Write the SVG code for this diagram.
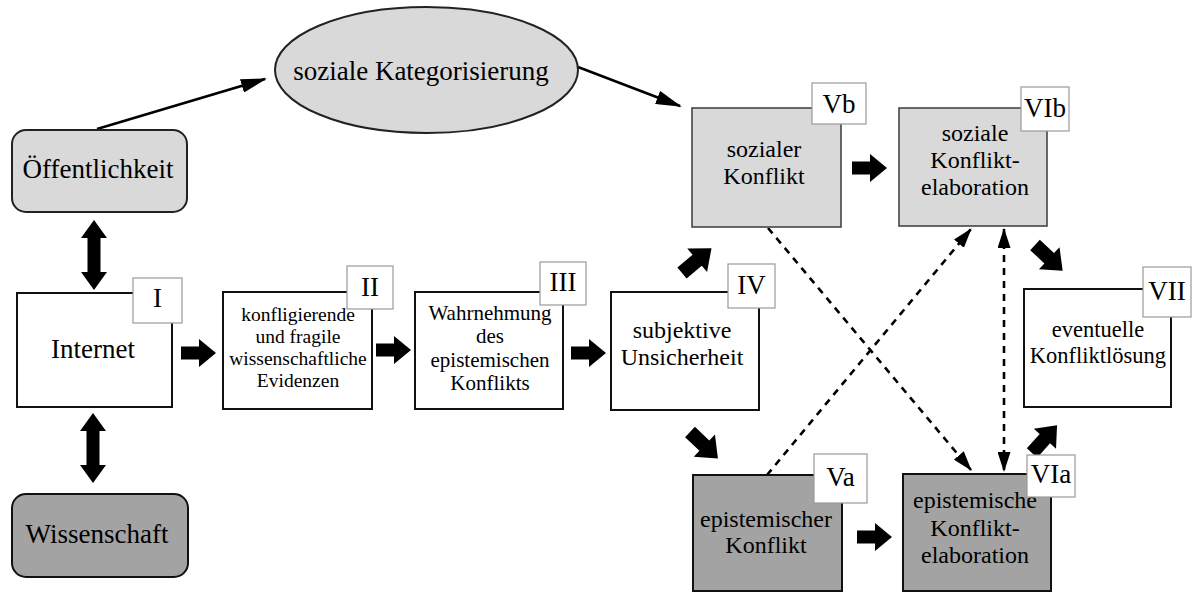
<svg xmlns="http://www.w3.org/2000/svg" xmlns:xlink="http://www.w3.org/1999/xlink" width="1192" height="592" viewBox="0 0 1192 592">
<style>
text{fill:#000;text-anchor:middle}
.big{font-size:27px}
.lbl{font-size:27px}
.box{fill:#fff;stroke:#111;stroke-width:2}
.light{fill:#d9d9d9;stroke:#222;stroke-width:2}
.lightb{fill:#d9d9d9;stroke:#444;stroke-width:1.6}
.dark{fill:#a3a3a3;stroke:#111;stroke-width:2}
.tag{fill:#fff;stroke:#999;stroke-width:1.2}
.line{stroke:#000;stroke-width:2.5;fill:none}
.dash{stroke:#000;stroke-width:2.6;fill:none;stroke-dasharray:7 6}
.blk{fill:#000}
</style>
<defs>
<path id="ba" d="M0,-6.5 H18 V-14 L35,0 L18,14 V6.5 H0 Z"/>
<path id="dba" d="M0,-18 L13,0 H6.5 V34 H13 L0,52 L-13,34 H-6.5 V0 H-13 Z"/>
<marker id="ah" markerUnits="userSpaceOnUse" viewBox="0 0 26 14" markerWidth="26" markerHeight="14" refX="24" refY="7" orient="auto">
<path d="M0,0 L26,7 L0,14 Z" fill="#000"/>
</marker>
<marker id="dh" markerUnits="userSpaceOnUse" viewBox="0 0 20 13" markerWidth="20" markerHeight="13" refX="19" refY="6.5" orient="auto-start-reverse">
<path d="M0,0 L20,6.5 L0,13 Z" fill="#000"/>
</marker>
</defs>

<g id="connectors">
<line class="line" x1="97" y1="129" x2="265" y2="79" marker-end="url(#ah)"/>
<line class="line" x1="578" y1="67" x2="680" y2="106" marker-end="url(#ah)"/>
<use xlink:href="#dba" transform="translate(94,238)" class="blk"/>
<use xlink:href="#dba" transform="translate(93,431)" class="blk"/>
<use xlink:href="#ba" transform="translate(181,353)" class="blk"/>
<use xlink:href="#ba" transform="translate(376,350)" class="blk"/>
<use xlink:href="#ba" transform="translate(571,353)" class="blk"/>
<use xlink:href="#ba" transform="translate(852,168)" class="blk"/>
<use xlink:href="#ba" transform="translate(857,537)" class="blk"/>
<use xlink:href="#ba" transform="translate(682,273) rotate(-40) scale(1.1)" class="blk"/>
<use xlink:href="#ba" transform="translate(690,432) rotate(43.5) scale(1.1)" class="blk"/>
<use xlink:href="#ba" transform="translate(1035,245) rotate(43) scale(1.08)" class="blk"/>
<use xlink:href="#ba" transform="translate(1032,453) rotate(-48) scale(1.07)" class="blk"/>
<line class="dash" x1="768" y1="228" x2="971" y2="470" marker-end="url(#dh)"/>
<line class="dash" x1="767" y1="475" x2="971" y2="229" marker-end="url(#dh)"/>
<line class="dash" x1="1004" y1="229" x2="1004" y2="471" marker-start="url(#dh)" marker-end="url(#dh)"/>
</g>

<g font-family="'Liberation Serif', 'Times New Roman', 'DejaVu Serif', serif">
<g id="oeffentlichkeit">
<rect class="light" x="12" y="130" width="175" height="82" rx="14"/>
<text class="big" x="98" y="178">Öffentlichkeit</text>
</g>
<g id="kategorisierung">
<ellipse class="light" cx="426.5" cy="70" rx="151.5" ry="63"/>
<text class="big" x="421" y="80">soziale Kategorisierung</text>
</g>
<g id="wissenschaft">
<rect class="dark" x="12" y="494" width="176" height="83" rx="14"/>
<text class="big" x="97" y="543">Wissenschaft</text>
</g>
<g id="internet">
<rect class="box" x="17" y="293" width="155" height="114"/>
<text class="big" x="93" y="358">Internet</text>
<rect class="tag" x="133" y="278" width="49" height="45"/>
<text class="lbl" x="157.5" y="307">I</text>
</g>
<g id="evidenzen">
<rect class="box" x="223" y="292" width="149" height="117"/>
<text style="font-size:19.5px" x="298" y="321">konfligierende</text>
<text style="font-size:19.5px" x="298" y="343">und fragile</text>
<text style="font-size:19.5px" x="298" y="365">wissenschaftliche</text>
<text style="font-size:19.5px" x="298" y="387">Evidenzen</text>
<rect class="tag" x="347" y="266" width="46" height="43"/>
<text class="lbl" x="370" y="296">II</text>
</g>
<g id="wahrnehmung">
<rect class="box" x="415" y="292" width="148" height="117"/>
<text style="font-size:21px" x="490" y="320">Wahrnehmung</text>
<text style="font-size:21px" x="490" y="343">des</text>
<text style="font-size:21px" x="490" y="367">epistemischen</text>
<text style="font-size:21px" x="490" y="390">Konflikts</text>
<rect class="tag" x="540" y="262" width="46" height="43"/>
<text class="lbl" x="563" y="291">III</text>
</g>
<g id="unsicherheit">
<rect class="box" x="611" y="292" width="148" height="118"/>
<text style="font-size:24px" x="682" y="338">subjektive</text>
<text style="font-size:24px" x="682" y="365">Unsicherheit</text>
<rect class="tag" x="728" y="264" width="47" height="44"/>
<text class="lbl" x="751.5" y="294">IV</text>
</g>
<g id="sozialer-konflikt">
<rect class="lightb" x="692" y="108" width="149" height="119"/>
<text style="font-size:24px" x="764" y="157">sozialer</text>
<text style="font-size:24px" x="764" y="184">Konflikt</text>
<rect class="tag" x="812" y="83" width="54" height="41"/>
<text class="lbl" x="839" y="113">Vb</text>
</g>
<g id="soziale-elaboration">
<rect class="lightb" x="899" y="108" width="148" height="118"/>
<text style="font-size:24px" x="975" y="141">soziale</text>
<text style="font-size:24px" x="975" y="168">Konflikt-</text>
<text style="font-size:24px" x="975" y="195">elaboration</text>
<rect class="tag" x="1021" y="87" width="48" height="44"/>
<text class="lbl" x="1045" y="117">VIb</text>
</g>
<g id="konfliktloesung">
<rect class="box" x="1024" y="289" width="147" height="118"/>
<text style="font-size:22.5px" x="1098" y="337">eventuelle</text>
<text style="font-size:22.5px" x="1098" y="363">Konfliktlösung</text>
<rect class="tag" x="1143" y="267" width="48" height="50"/>
<text class="lbl" x="1167" y="300">VII</text>
</g>
<g id="epistemischer-konflikt">
<rect class="dark" x="693" y="475" width="149" height="116"/>
<text style="font-size:24px" x="766" y="527">epistemischer</text>
<text style="font-size:24px" x="766" y="553">Konflikt</text>
<rect class="tag" x="814" y="454" width="53" height="49"/>
<text class="lbl" x="840.5" y="486">Va</text>
</g>
<g id="epistemische-elaboration">
<rect class="dark" x="903" y="474" width="148" height="117"/>
<text style="font-size:24px" x="975" y="508">epistemische</text>
<text style="font-size:24px" x="975" y="536">Konflikt-</text>
<text style="font-size:24px" x="975" y="563">elaboration</text>
<rect class="tag" x="1027" y="455" width="48" height="42"/>
<text class="lbl" x="1051" y="483">VIa</text>
</g>
</g>
</svg>
